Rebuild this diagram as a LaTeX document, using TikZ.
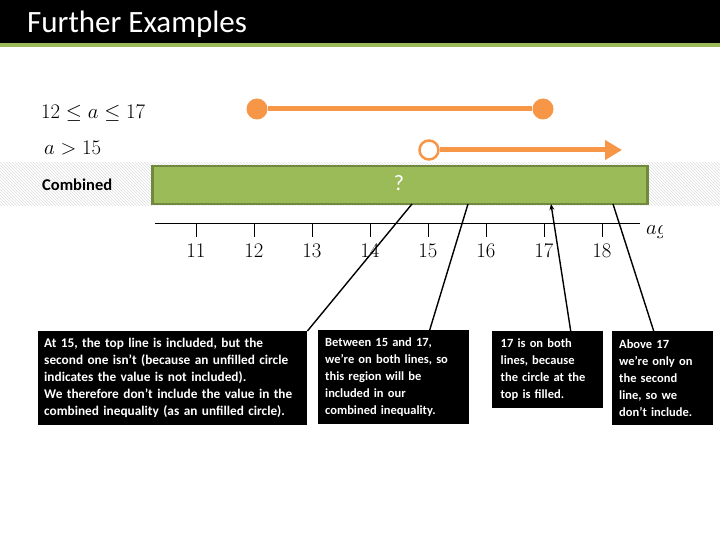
\documentclass[tikz,border=0pt]{standalone}
\usepackage{fontspec}
\setmainfont{Carlito}
\usetikzlibrary{patterns,arrows.meta}
\definecolor{ogreen}{HTML}{9BBB59}
\definecolor{dgreen}{HTML}{71893F}
\definecolor{oorange}{HTML}{F79646}
\tikzset{
  callout/.style={fill=black,text=white,anchor=north west,align=left,inner sep=0pt,
    font=\bfseries\fontsize{12.5}{17}\selectfont},
  conn/.style={black,line width=1.4pt},
  oline/.style={oorange,line width=5pt},
  tick/.style={black,line width=1pt},
  numlab/.style={font=\fontsize{20}{20}\selectfont,anchor=base},
}
\begin{document}
\begin{tikzpicture}[x=1pt,y=-1pt]
\useasboundingbox (0,0) rectangle (720,540);
\fill[white] (0,0) rectangle (720,540);
% title
\fill[black] (0,0) rectangle (720,43);
\fill[ogreen] (0,43) rectangle (720,47);
\node[anchor=base west,text=white,inner sep=0pt,font=\fontsize{31}{31}\selectfont] (title) at (27,33) {Further Examples};
% hatched band
\fill[pattern=north west lines,pattern color=gray!25] (0,163) rectangle (720,206);
% combined bar
\node[draw=dgreen,line width=2.5pt,fill=ogreen,minimum width=495pt,minimum height=38pt,anchor=north west,inner sep=0pt] (comb) at (151,165) {};
\node[text=white,font=\fontsize{22}{22}\selectfont] (q) at (399,183) {?};
\node[anchor=west,inner sep=0pt,font=\bfseries\fontsize{16.5}{16.5}\selectfont] (cl) at (42,185) {Combined};
% inequality labels
\node[anchor=west,inner sep=0pt,font=\fontsize{20}{20}\selectfont] (l1) at (41,113) {$12\le a\le 17$};
\node[anchor=west,inner sep=0pt,font=\fontsize{19.5}{19.5}\selectfont] (l2) at (44,148) {$a>15$};
% top orange line
\node[circle,fill=oorange,minimum size=21pt,inner sep=0pt] (c1) at (257,109) {};
\node[circle,fill=oorange,minimum size=21pt,inner sep=0pt] (c2) at (543,109) {};
\draw[oline] (c1) -- (c2);
% second orange line
\node[circle,draw=oorange,line width=2.5pt,fill=white,minimum size=19pt,inner sep=0pt] (c3) at (429,150) {};
\coordinate (aend) at (622,150);
\draw[oline,-{Triangle[length=17pt,width=19pt]}] (c3) -- (aend);
% number line
\coordinate (nl0) at (155,224);
\coordinate (nl1) at (640,224);
\draw[black,line width=1pt] (nl0) -- (nl1);
\foreach \n/\x in {11/196,12/254,13/312,14/370,15/428,16/486,17/544,18/602}{
  \draw[tick] (\x,224) -- (\x,237);
  \node[numlab] (n\n) at (\x,258) {$\n$};
}
\begin{scope}
\clip (640,210) rectangle (662,245);
\node[anchor=base west,inner sep=0pt,font=\fontsize{20}{20}\selectfont] (ag) at (646,234) {$age$};
\end{scope}
% callouts
\node[callout,font=\bfseries\fontsize{13.3}{17}\selectfont,minimum width=269pt,minimum height=94pt,text width=257pt] (b1) at (38,331)
 {At 15, the top line is included, but the\\second one isn't (because an unfilled circle\\indicates the value is not included).\\We therefore don't include the value in the\\combined inequality (as an unfilled circle).};
\node[callout,minimum width=151pt,minimum height=94pt,text width=137pt] (b2) at (318,330)
 {Between 15 and 17,\\we're on both lines, so\\this region will be\\included in our\\combined inequality.};
\node[callout,minimum width=111pt,minimum height=77pt,text width=94pt] (b3) at (492,331)
 {17 is on both\\lines, because\\the circle at the\\top is filled.};
\node[callout,minimum width=101pt,minimum height=94pt,text width=87pt] (b4) at (612,331)
 {Above 17\\we're only on\\the second\\line, so we\\don't include.};
% connectors
\coordinate (t1) at (412,204);
\coordinate (t2) at (468,204);
\coordinate (t3) at (551,204);
\coordinate (t4) at (613,204);
\draw[conn] (b1.north east) -- (t1);
\path (b2.north) ++(36,0) coordinate (s2);
\draw[conn] (s2) -- (t2);
\path (b3.north) ++(23,0) coordinate (s3);
\draw[conn,-{Stealth[length=6pt,width=5pt]}] (s3) -- (t3);
\path (b4.north) ++(-9,0) coordinate (s4);
\draw[conn] (s4) -- (t4);
\end{tikzpicture}
\end{document}
